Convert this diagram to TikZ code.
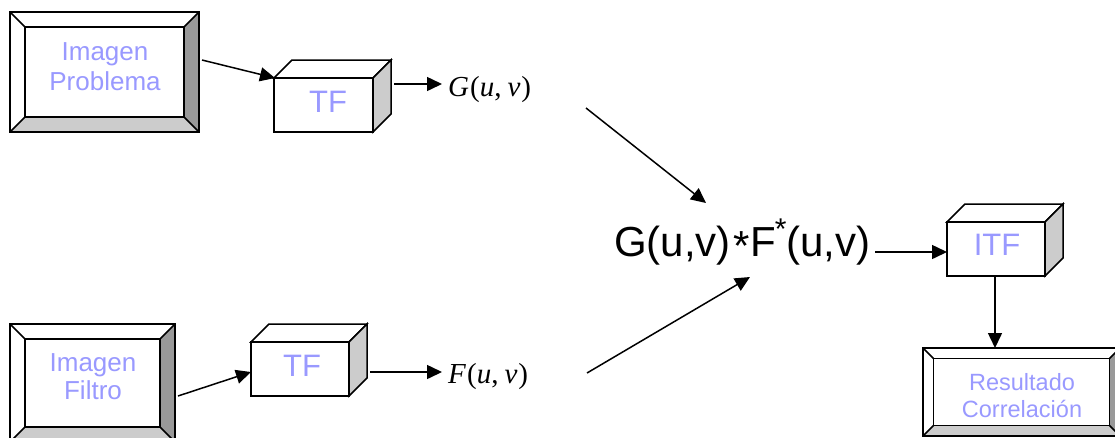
\documentclass[tikz,border=0pt]{standalone}
\usepackage{fontspec}
\setmainfont{Liberation Sans}
\newfontfamily\tnr{Liberation Serif}
\usetikzlibrary{arrows.meta}
\definecolor{txtblue}{HTML}{9999FF}
\definecolor{bevdark}{HTML}{999999}
\definecolor{bevlight}{HTML}{CCCCCC}
\tikzset{
  conn/.style={line width=1.5pt, -{Triangle[length=15pt,width=14pt]}},
  frame/.style={draw=black, line width=1.5pt, line join=miter},
  lbl/.style={text=txtblue, align=center, inner sep=0pt},
  mathlbl/.style={inner sep=0pt, anchor=base west},
}
% bevelled frame: x1 y1 x2 y2 bevel
\newcommand\bevelframe[5]{%
  \fill[white] (#1,#2) rectangle (#3,#4);
  \fill[bevdark] (#3,#2) -- (#3,#4) -- (#3-#5,#4-#5) -- (#3-#5,#2+#5) -- cycle;
  \fill[bevlight] (#1,#4) -- (#3,#4) -- (#3-#5,#4-#5) -- (#1+#5,#4-#5) -- cycle;
  \draw[frame] (#1,#2) rectangle (#3,#4);
  \draw[frame] (#1+#5,#2+#5) rectangle (#3-#5,#4-#5);
  \draw[frame] (#1,#2) -- (#1+#5,#2+#5) (#3,#2) -- (#3-#5,#2+#5)
               (#3,#4) -- (#3-#5,#4-#5) (#1,#4) -- (#1+#5,#4-#5);
}
% 3D box: x1 y1 x2 y2 (front face) depth
\newcommand\cubebox[5]{%
  \filldraw[frame, fill=white] (#1,#2) -- (#1+#5,#2-#5) -- (#3+#5,#2-#5) -- (#3,#2) -- cycle;
  \filldraw[frame, fill=bevlight] (#3,#2) -- (#3+#5,#2-#5) -- (#3+#5,#4-#5) -- (#3,#4) -- cycle;
  \filldraw[frame, fill=white] (#1,#2) rectangle (#3,#4);
}
\newcommand\eqfun[1]{\textit{#1}\kern1pt(\textit{u},\kern6pt\textit{v}\kern1pt)}
\begin{document}
\begin{tikzpicture}[x=1pt,y=-1pt]
  \clip (0,0) rectangle (1115,437);
  \fill[white] (0,0) rectangle (1115,437);

  % frames and boxes
  \bevelframe{10}{12}{199}{132}{15}
  \bevelframe{10}{324}{175}{442}{15}
  \bevelframe{923}{348}{1120}{436}{10.5}
  \cubebox{274}{78}{373}{132}{18}
  \cubebox{251}{342}{349}{396}{18}
  \cubebox{947}{222}{1045}{276}{18}

  % texts
  \node[lbl, font=\fontsize{26}{30}\selectfont] (prob) at (105,67) {Imagen\\Problema};
  \node[lbl, font=\fontsize{26}{28}\selectfont] (filt) at (93,377) {Imagen\\Filtro};
  \node[lbl, font=\fontsize{23.5}{27}\selectfont] (res) at (1022,395.5) {Resultado\\Correlación};
  \node[lbl, font=\fontsize{31}{31}\selectfont] (tf1) at (328,101.5) {TF};
  \node[lbl, font=\fontsize{31}{31}\selectfont] (tf2) at (302,366) {TF};
  \node[lbl, font=\fontsize{31}{31}\selectfont] (itf) at (997,245) {ITF};

  \node[mathlbl, font=\fontsize{29}{29}\selectfont\tnr] (G) at (448,96) {\eqfun{G}};
  \node[mathlbl, font=\fontsize{29}{29}\selectfont\tnr] (F) at (448,383) {\eqfun{F}};
  \node[mathlbl, font=\fontsize{42}{42}\selectfont] (prod) at (614,256)
    {G(u,v)\kern3pt\raisebox{-4pt}{*}F\kern-1pt\raisebox{17pt}{\fontsize{30}{30}\selectfont*}(u,v)};

  % connector end points
  \coordinate (p1s) at (202,60);   \coordinate (tf1in) at (275,78);
  \coordinate (tf1out) at (394,84); \coordinate (gin) at (442,84);
  \coordinate (gout) at (586,108); \coordinate (prodin1) at (706,203);
  \coordinate (f1s) at (178,396);  \coordinate (tf2in) at (251,372);
  \coordinate (tf2out) at (370,372); \coordinate (fin) at (442,372);
  \coordinate (fout) at (587,373); \coordinate (prodin2) at (750,277);
  \coordinate (prodout) at (875,252); \coordinate (itfin) at (947,252);
  \coordinate (itfout) at (995,276); \coordinate (resin) at (995,348);

  \draw[conn] (p1s) -- (tf1in);
  \draw[conn] (tf1out) -- (gin);
  \draw[conn] (gout) -- (prodin1);
  \draw[conn] (f1s) -- (tf2in);
  \draw[conn] (tf2out) -- (fin);
  \draw[conn] (fout) -- (prodin2);
  \draw[conn] (prodout) -- (itfin);
  \draw[conn] (itfout) -- (resin);
\end{tikzpicture}
\end{document}
